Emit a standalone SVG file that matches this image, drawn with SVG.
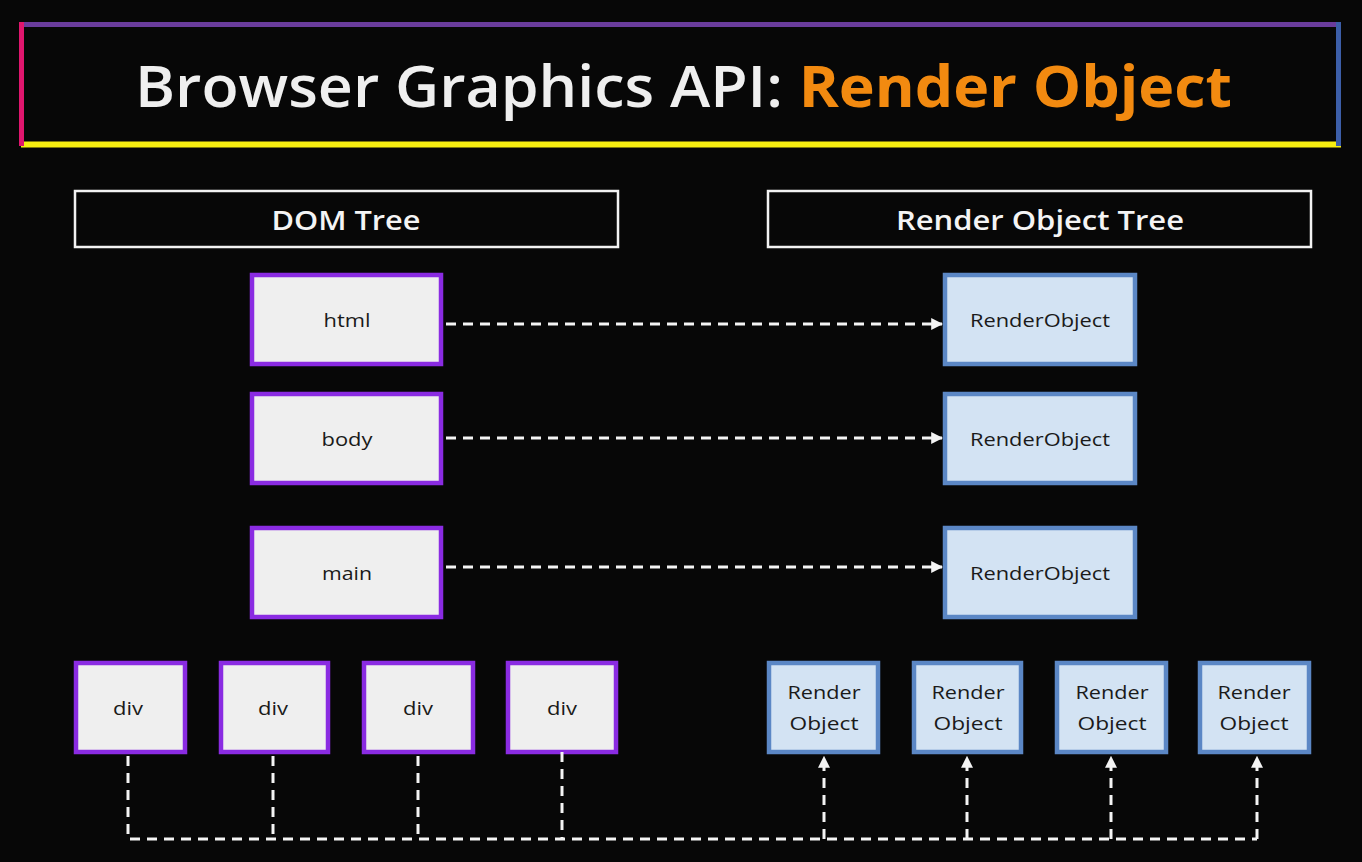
<svg xmlns="http://www.w3.org/2000/svg" width="1362" height="862" viewBox="0 0 1362 862">
<style>
.hdr{fill:none;stroke:#f2f2f2;stroke-width:2.5}
.dom{fill:#efefef;stroke:#8a2be2;stroke-width:4.5}
.ro{fill:#d3e3f3;stroke:#5b87c5;stroke-width:4.5}
.lbl{font-family:"Open Sans","Liberation Sans",sans-serif;font-size:19px;fill:#1a1a1a;text-anchor:middle;dominant-baseline:central}
.ht{font-family:"Open Sans","Liberation Sans",sans-serif;font-size:27px;font-weight:600;fill:#f4f4f4;text-anchor:middle;dominant-baseline:central}
.con{fill:none;stroke:#f4f4f4;stroke-width:3;stroke-dasharray:10 7}
</style>
<defs>
<marker id="ah" viewBox="0 0 10 10" refX="9" refY="5" markerWidth="4" markerHeight="4" orient="auto" markerUnits="strokeWidth">
<path d="M0,0 L10,5 L0,10 Z" fill="#f4f4f4"/>
</marker>
</defs>
<rect width="1362" height="862" fill="#070707"/>
<g id="title">
<rect x="21" y="22" width="1320" height="124" fill="#070707"/>
<line x1="21" y1="24.5" x2="1341" y2="24.5" stroke="#6a3c9c" stroke-width="5"/>
<line x1="21" y1="144.5" x2="1341" y2="144.5" stroke="#f7ee10" stroke-width="6"/>
<line x1="21.5" y1="22" x2="21.5" y2="146" stroke="#e0166e" stroke-width="5"/>
<line x1="1338.5" y1="22" x2="1338.5" y2="146" stroke="#3c5ea8" stroke-width="5"/>
<text x="135" y="107" font-family="'Open Sans','Liberation Sans',sans-serif" font-size="58" font-weight="600" fill="#efefef" textLength="1097" lengthAdjust="spacingAndGlyphs">Browser Graphics API: <tspan fill="#f28a10" font-weight="700">Render Object</tspan></text>
</g>
<g id="dom-header">
<rect class="hdr" x="75" y="191" width="543" height="56"/>
<text class="ht" x="346" y="219" textLength="149" lengthAdjust="spacingAndGlyphs">DOM Tree</text>
</g>
<g id="ro-header">
<rect class="hdr" x="768" y="191" width="543" height="56"/>
<text class="ht" x="1040" y="219" textLength="288" lengthAdjust="spacingAndGlyphs">Render Object Tree</text>
</g>
<g id="html"><rect class="dom" x="252" y="275" width="189" height="89"/><text class="lbl" x="347" y="320" textLength="47" lengthAdjust="spacingAndGlyphs">html</text></g>
<g id="body"><rect class="dom" x="252" y="394" width="189" height="89"/><text class="lbl" x="347" y="439" textLength="51" lengthAdjust="spacingAndGlyphs">body</text></g>
<g id="main"><rect class="dom" x="252" y="528" width="189" height="89"/><text class="lbl" x="347" y="573" textLength="50" lengthAdjust="spacingAndGlyphs">main</text></g>
<g id="ro-html"><rect class="ro" x="945" y="275" width="190" height="89"/><text class="lbl" x="1040" y="320" textLength="140" lengthAdjust="spacingAndGlyphs">RenderObject</text></g>
<g id="ro-body"><rect class="ro" x="945" y="394" width="190" height="89"/><text class="lbl" x="1040" y="439" textLength="140" lengthAdjust="spacingAndGlyphs">RenderObject</text></g>
<g id="ro-main"><rect class="ro" x="945" y="528" width="190" height="89"/><text class="lbl" x="1040" y="573" textLength="140" lengthAdjust="spacingAndGlyphs">RenderObject</text></g>
<g id="div1"><rect class="dom" x="76" y="663" width="109" height="89"/><text class="lbl" x="128" y="708" textLength="30" lengthAdjust="spacingAndGlyphs">div</text></g>
<g id="div2"><rect class="dom" x="221" y="663" width="107" height="89"/><text class="lbl" x="273" y="708" textLength="30" lengthAdjust="spacingAndGlyphs">div</text></g>
<g id="div3"><rect class="dom" x="364" y="663" width="109" height="89"/><text class="lbl" x="418" y="708" textLength="30" lengthAdjust="spacingAndGlyphs">div</text></g>
<g id="div4"><rect class="dom" x="508" y="663" width="108" height="89"/><text class="lbl" x="562" y="708" textLength="30" lengthAdjust="spacingAndGlyphs">div</text></g>
<g id="ro1"><rect class="ro" x="769" y="663" width="109" height="89"/><text class="lbl" x="824" y="692" textLength="73" lengthAdjust="spacingAndGlyphs">Render</text><text class="lbl" x="824" y="723" textLength="69" lengthAdjust="spacingAndGlyphs">Object</text></g>
<g id="ro2"><rect class="ro" x="914" y="663" width="107" height="89"/><text class="lbl" x="968" y="692" textLength="73" lengthAdjust="spacingAndGlyphs">Render</text><text class="lbl" x="968" y="723" textLength="69" lengthAdjust="spacingAndGlyphs">Object</text></g>
<g id="ro3"><rect class="ro" x="1057" y="663" width="109" height="89"/><text class="lbl" x="1112" y="692" textLength="73" lengthAdjust="spacingAndGlyphs">Render</text><text class="lbl" x="1112" y="723" textLength="69" lengthAdjust="spacingAndGlyphs">Object</text></g>
<g id="ro4"><rect class="ro" x="1200" y="663" width="109" height="89"/><text class="lbl" x="1254" y="692" textLength="73" lengthAdjust="spacingAndGlyphs">Render</text><text class="lbl" x="1254" y="723" textLength="69" lengthAdjust="spacingAndGlyphs">Object</text></g>
<g id="connectors">
<line class="con" x1="446" y1="324" x2="942" y2="324" marker-end="url(#ah)"/>
<line class="con" x1="446" y1="438" x2="942" y2="438" marker-end="url(#ah)"/>
<line class="con" x1="446" y1="567" x2="942" y2="567" marker-end="url(#ah)"/>
<path class="con" d="M128,756 V839 H1257"/>
<path class="con" d="M273,756 V839"/>
<path class="con" d="M418,756 V839"/>
<path class="con" d="M562,752 V839"/>
<path class="con" d="M824,839 V757" marker-end="url(#ah)"/>
<path class="con" d="M967,839 V757" marker-end="url(#ah)"/>
<path class="con" d="M1111,839 V757" marker-end="url(#ah)"/>
<path class="con" d="M1257,839 V757" marker-end="url(#ah)"/>
</g>
</svg>
